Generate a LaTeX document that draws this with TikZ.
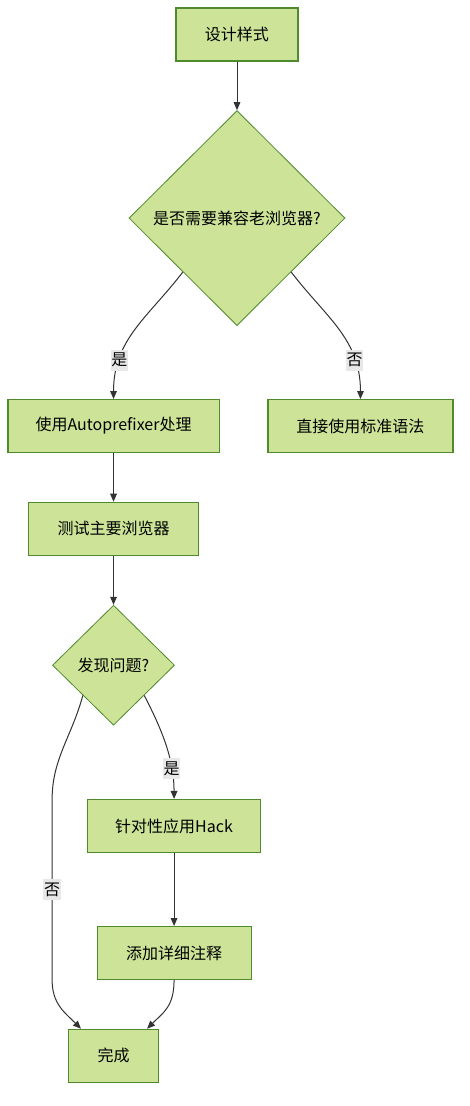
\documentclass[tikz,border=0pt]{standalone}
\usepackage{fontspec}
\setmainfont{Noto Sans CJK SC}
\usetikzlibrary{calc,positioning,arrows.meta,shapes.geometric}
\definecolor{boxfill}{HTML}{CDE498}
\definecolor{boxline}{HTML}{4F8A2E}
\definecolor{edgeline}{HTML}{333333}
\definecolor{lblfill}{HTML}{E8E8E8}
\tikzset{
		>={Triangle[length=6pt,width=5pt]},
			box/.style={rectangle, draw=boxline, fill=boxfill, line width=0.8pt,
				minimum height=39.75pt, text=black, font=\fontsize{12pt}{14pt}\selectfont},
			dec/.style={diamond, draw=boxline, fill=boxfill, line width=0.6pt,
				inner sep=0pt, aspect=1, text=black, font=\fontsize{12pt}{14pt}\selectfont},
			lbl/.style={fill=lblfill, inner sep=0.5pt, minimum height=16pt,
				text=black, font=\fontsize{12pt}{14pt}\selectfont},
			line/.style={->, draw=edgeline, line width=0.75pt},
		}
\begin{document}
\begin{tikzpicture}
				\useasboundingbox[fill=white] (-177.75pt,25.875pt) rectangle ++(351.75pt,-829.5pt);
				\node[box, minimum width=91.5pt] (design) at (0,0) {设计样式};
				\node[dec, below=36.5pt of design, minimum width=162pt, minimum height=161.25pt] (legacy) {是否需要兼容老浏览器?};
				\node[box, below=54.75pt of legacy, xshift=-92.6pt, minimum width=158.25pt] (prefix) {使用Autoprefixer处理};
				\node[box, below=54.75pt of legacy, xshift=92.6pt, minimum width=138.75pt] (standard) {直接使用标准语法};
				\node[box, below=36.5pt of prefix, minimum width=127.5pt] (test) {测试主要浏览器};
				\node[dec, below=36.75pt of test, minimum width=91.5pt, minimum height=90pt] (issue) {发现问题?};
				\node[box, below=55pt of issue, xshift=45.4pt, minimum width=129.75pt] (hack) {针对性应用Hack};
				\node[box, below=54.75pt of hack, minimum width=115.5pt] (note) {添加详细注释};
				\node[box, below=36.5pt of note, xshift=-45.4pt, minimum width=67.5pt] (done) {完成};

				\draw[line] (design) -- (legacy);
				\draw[line] (legacy.south west) .. controls +(-26pt,-34pt) and +(0,45pt) .. node[lbl, pos=0.75] {是} (prefix.north);
				\draw[line] (legacy.south east) .. controls +(26pt,-34pt) and +(0,45pt) .. node[lbl, pos=0.75] {否} (standard.north);
				\draw[line] (prefix) -- (test);
				\draw[line] (test) -- (issue);
				\draw[line] (issue.south east) .. controls +(14pt,-27pt) and +(0,29pt) .. node[lbl, pos=0.72] {是} (hack.north);
				\draw[line] (issue.south west) .. controls +(-8pt,-30pt) and +(0,30pt) .. (issue.west |- hack.north)
					-- node[lbl] {否} (issue.west |- note.south)
					.. controls +(0,-18pt) and +(-12pt,12pt) .. ([xshift=9.75pt]done.north west);
				\draw[line] (hack) -- (note);
				\draw[line] (note.south) .. controls +(0,-20pt) and +(12pt,12pt) .. ([xshift=-9pt]done.north east);
			\end{tikzpicture}
\end{document}
